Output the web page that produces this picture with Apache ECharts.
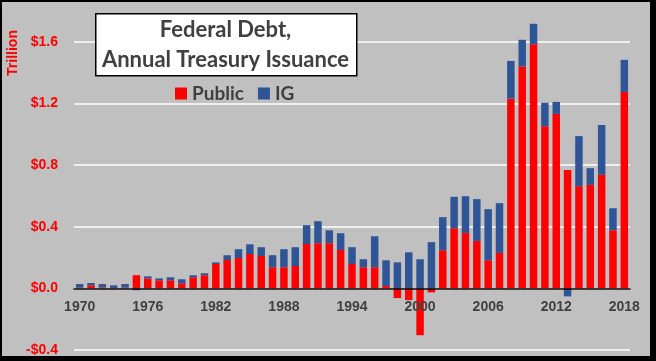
<!DOCTYPE html>
<html>
<head>
<meta charset="utf-8">
<script src="https://cdn.jsdelivr.net/npm/echarts@6/dist/echarts.min.js"></script>
<style>
html,body{margin:0;padding:0;background:#c0c0c0;}
#wrap{position:relative;width:656px;height:361px;}
#chart{position:absolute;left:0;top:0;width:656px;height:361px;}
#frame{position:absolute;left:0;top:0;width:656px;height:361px;box-sizing:border-box;
  border-left:2px solid #000;border-top:2px solid #000;border-right:6px solid #000;border-bottom:5px solid #000;pointer-events:none;}
</style>
</head>
<body>
<div id="wrap"><div id="chart"></div><div id="frame"></div></div>
<script>
// ---- data ----
const years = [];
for (let y = 1970; y <= 2018; y++) years.push(String(y));
const xTickLabels = ['1970','1976','1982','1988','1994','2000','2006','2012','2018'];
const yTickValues = [-0.4, 0.0, 0.4, 0.8, 1.2, 1.6];
const publicVals = [
  0.005, 0.020, 0.006, 0.002, 0.005, 0.085, 0.065, 0.052, 0.052, 0.033,
  0.072, 0.085, 0.158, 0.184, 0.197, 0.223, 0.210, 0.137, 0.137, 0.145,
  0.288, 0.293, 0.293, 0.249, 0.158, 0.137, 0.137, 0.015, -0.063, -0.076,
  -0.304, -0.026, 0.247, 0.390, 0.360, 0.308, 0.182, 0.230, 1.231, 1.440,
  1.584, 1.052, 1.132, 0.768, 0.663, 0.672, 0.737, 0.377, 1.275
];
const igVals = [
  0.023, 0.015, 0.022, 0.018, 0.023, -0.012, 0.013, 0.013, 0.020, 0.026,
  0.013, 0.013, 0.011, 0.031, 0.057, 0.063, 0.057, 0.078, 0.117, 0.122,
  0.122, 0.143, 0.084, 0.109, 0.109, 0.052, 0.201, 0.167, 0.169, 0.234,
  0.189, 0.300, 0.215, 0.204, 0.238, 0.271, 0.332, 0.323, 0.245, 0.173,
  0.133, 0.152, 0.078, -0.052, 0.325, 0.108, 0.323, 0.143, 0.208
];
const seriesNames = ['Public', 'IG'];
const titleLines = ['Federal Debt,', 'Annual Treasury Issuance'];
const yAxisName = 'Trillion';

// ---- chart ----
const chart = echarts.init(document.getElementById('chart'), null, {renderer: 'canvas'});
const yMin = yTickValues[0];
const yMax = 1.8;
const yInterval = 0.4;
const gridTop = 11, gridBottom = 11, H = 361;
const plotH = H - gridTop - gridBottom;
// distance from plot bottom up to the zero line
const zeroOffset = plotH * (0 - yMin) / (yMax - yMin);
const fmt = v => {
  if (Math.abs(v) < 1e-9) return '$0.0';
  return (v < 0 ? '-$' : '$') + Math.abs(v).toFixed(1);
};
chart.setOption({
  backgroundColor: '#c0c0c0',
  animation: false,
  grid: {left: 74, right: 26, top: gridTop, bottom: gridBottom, containLabel: false, outerBoundsMode: 'none'},
  legend: {
    left: 170, top: 79,
    itemWidth: 12, itemHeight: 12, itemGap: 14,
    icon: 'rect',
    data: seriesNames,
    textStyle: {color: '#404040', fontSize: 19, fontWeight: 'bold', fontFamily: 'Lato'}
  },
  xAxis: {
    type: 'category',
    data: years,
    z: 5,
    offset: -zeroOffset,
    axisTick: {show: false},
    axisLine: {onZero: false, lineStyle: {color: '#000', width: 1.5}},
    axisLabel: {
      interval: (i, v) => xTickLabels.indexOf(v) >= 0,
      margin: 12,
      color: '#404040', fontSize: 14, fontWeight: 'bold', fontFamily: 'Liberation Sans'
    },
    splitLine: {show: false}
  },
  yAxis: {
    type: 'value',
    min: yMin, max: yMax, interval: yInterval,
    axisLine: {show: false}, axisTick: {show: false},
    axisLabel: {
      formatter: fmt, showMaxLabel: false, margin: 16,
      color: '#ff0000', fontSize: 14, fontWeight: 'bold', fontFamily: 'Liberation Sans'
    },
    splitLine: {show: true, showMaxLine: false, lineStyle: {color: '#ffffff', width: 1.5}}
  },
  series: [
    {name: seriesNames[0], type: 'bar', stack: 'total', data: publicVals,
     itemStyle: {color: '#ff0000'}, barCategoryGap: '34%'},
    {name: seriesNames[1], type: 'bar', stack: 'total', data: igVals,
     itemStyle: {color: '#2f5597'}, barCategoryGap: '34%'}
  ],
  graphic: [
    {type: 'rect', left: 95, top: 13, shape: {width: 261, height: 62},
     style: {fill: '#ffffff', stroke: '#000000', lineWidth: 1.5}, z: 10},
    {type: 'text', x: 225.5, y: 30, z: 11,
     style: {text: titleLines[0], align: 'center', verticalAlign: 'middle',
             font: 'bold 22px Lato', fill: '#404040'}},
    {type: 'text', x: 225.5, y: 60, z: 11,
     style: {text: titleLines[1], align: 'center', verticalAlign: 'middle',
             font: 'bold 22px Lato', fill: '#404040'}},
    {type: 'text', x: 13, y: 53, rotation: Math.PI / 2, z: 11,
     style: {text: yAxisName, align: 'center', verticalAlign: 'middle',
             font: 'bold 14px Liberation Sans', fill: '#ff0000'}}
  ]
});
</script>
</body>
</html>
